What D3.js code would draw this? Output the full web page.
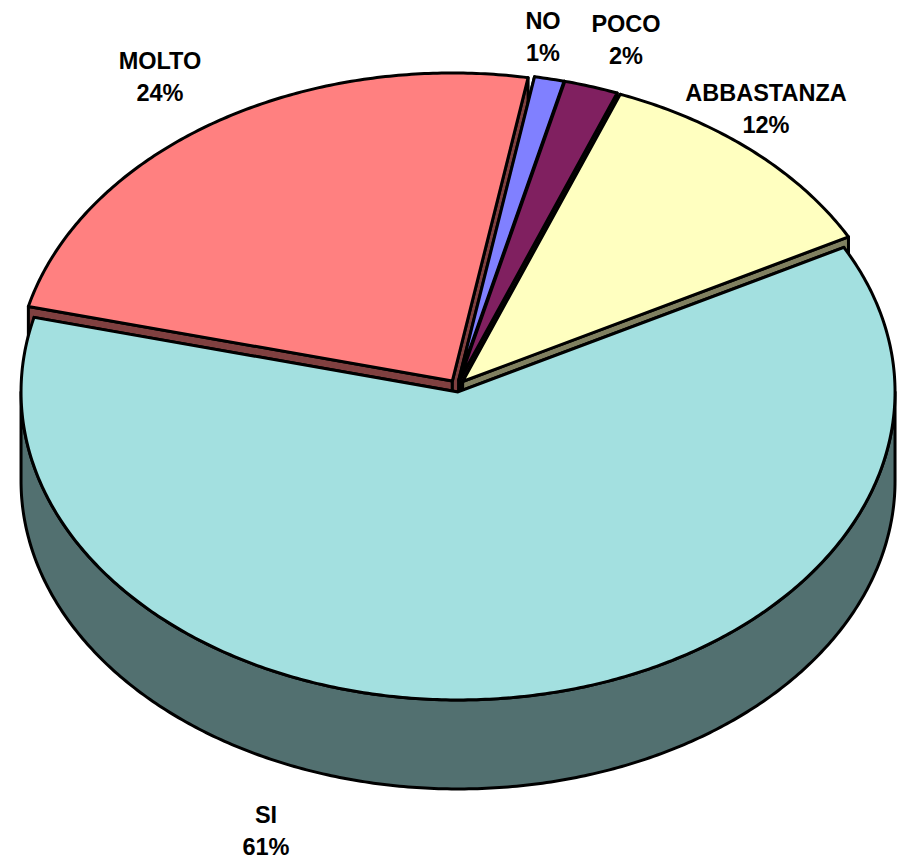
<!DOCTYPE html>
<html><head><meta charset="utf-8">
<script src="https://cdn.jsdelivr.net/npm/d3@7"></script>
<style>html,body{margin:0;padding:0;background:#fff}svg{display:block}
text{font-family:"Liberation Sans",Arial,sans-serif;font-weight:bold;font-size:23.5px;fill:#000;text-anchor:middle}</style>
</head><body><svg id="c" width="903" height="861"></svg>
<script>
const categories = ["SI","MOLTO","NO","POCO","ABBASTANZA"];
const values = [61.67,23.88,1.1,2.0,11.35];
const percentLabels = ["61%","24%","1%","2%","12%"];
const topColors = ["#A3E0E0","#FF8080","#8080FF","#802060","#FFFFC0"];
const sideColors = ["#527070","#804040","#404080","#401030","#808060"];

const W=903,H=861, cx0=457, cy0=386, rx=437, ry=308, depth=89, explode=8.5;
const labelAnchors = [[266,823],[160,69],[543,29],[626,32],[766,101]];
const lineGap=31.5;

const svg=d3.select("#c");
const toRad=d3.scaleLinear().domain([0,360]).range([0,2*Math.PI]);
const arcs=d3.pie().sort(null).startAngle(toRad(62)).endAngle(toRad(62+360)).value(d=>d)(values);

const line=d3.line();
const STROKE=3;
const slices=arcs.map((a,i)=>{
  const mid=(a.startAngle+a.endAngle)/2;
  const ox=cx0+explode*Math.sin(mid), oy=cy0-explode*(ry/rx)*Math.cos(mid);
  const pt=(t,dz=0)=>[ox+rx*Math.sin(t), oy-ry*Math.cos(t)+dz];
  const rim=(t0,t1,dz=0)=>{
    const n=Math.max(2,Math.ceil(Math.abs(t1-t0)/0.01));
    return d3.range(n+1).map(k=>pt(t0+(t1-t0)*k/n,dz));
  };
  return {i,a,ox,oy,pt,rim};
});
function drawSlice(s){
  const {i,a,ox,oy,pt,rim}=s;
  const g=svg.append("g");
  const st=a.startAngle, en=a.endAngle;
  const face=(t)=>[[ox,oy],pt(t),pt(t,depth),[ox,oy+depth]];
  const attrs=(p,fill)=>p.attr("fill",fill).attr("stroke","#000").attr("stroke-width",STROKE).attr("stroke-linejoin","round");
  attrs(g.append("path").attr("d",line(face(st))+"Z"),sideColors[i]);
  attrs(g.append("path").attr("d",line(face(en))+"Z"),sideColors[i]);
  for(const k of [0,1]){
    const lo=Math.max(st,Math.PI/2+2*Math.PI*k), hi=Math.min(en,3*Math.PI/2+2*Math.PI*k);
    if(hi>lo){
      const pts=rim(lo,hi).concat(rim(hi,lo,depth));
      attrs(g.append("path").attr("d",line(pts)+"Z"),sideColors[i]);
    }
  }
  attrs(g.append("path").attr("d",line([[ox,oy],...rim(st,en)])+"Z"),topColors[i]);
}
[1,2,3,4,0].forEach(i=>drawSlice(slices[i]));

categories.forEach((c,i)=>{
  const [x,y]=labelAnchors[i];
  const t=svg.append("text").attr("x",x).attr("y",y);
  t.append("tspan").attr("x",x).text(c);
  t.append("tspan").attr("x",x).attr("y",y+lineGap).text(percentLabels[i]);
});
</script></body></html>
